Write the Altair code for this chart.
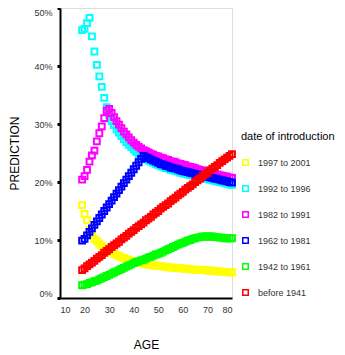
import altair as alt
import pandas as pd

ages = list(range(19, 81))
series_names = ["1997 to 2001", "1992 to 1996", "1982 to 1991",
                "1962 to 1981", "1942 to 1961", "before 1941"]
colors = ["#ffff00", "#00ffff", "#ff00ff", "#0000ff", "#00ff00", "#ff0000"]

yellow = [16.0, 14.5, 13.4, 11.7, 10.8, 10.2, 9.8, 9.4, 9.0, 8.7,
          8.4, 8.1, 7.9, 7.6, 7.4, 7.2, 7.0, 6.9, 6.7, 6.6,
          6.4, 6.3, 6.2, 6.1, 6.0, 5.9, 5.8, 5.7, 5.7, 5.6,
          5.6, 5.5, 5.5, 5.4, 5.4, 5.3, 5.3, 5.2, 5.2, 5.2,
          5.1, 5.1, 5.0, 5.0, 5.0, 4.9, 4.9, 4.9, 4.8, 4.8,
          4.8, 4.7, 4.7, 4.7, 4.6, 4.6, 4.6, 4.5, 4.5, 4.5,
          4.4, 4.4]
cyan = [46.2, 46.4, 47.4, 48.3, 45.1, 42.5, 40.2, 38.2, 36.4, 34.5,
        32.9, 31.5, 30.5, 29.8, 29.1, 28.5, 27.9, 27.4, 26.9, 26.4,
        26.0, 25.6, 25.2, 24.8, 24.5, 24.2, 23.9, 23.7, 23.5, 23.3,
        23.1, 22.9, 22.7, 22.6, 22.4, 22.3, 22.1, 22.0, 21.9, 21.8,
        21.6, 21.5, 21.4, 21.3, 21.2, 21.1, 21.0, 20.9, 20.8, 20.7,
        20.6, 20.5, 20.4, 20.3, 20.2, 20.1, 20.0, 19.9, 19.8, 19.7,
        19.6, 19.5]
magenta = [20.4, 21.0, 22.1, 23.5, 24.6, 25.4, 27.0, 28.4, 29.6, 31.0,
           32.3, 32.6, 31.9, 31.2, 30.5, 29.9, 29.3, 28.7, 28.2, 27.7,
           27.2, 26.8, 26.4, 26.1, 25.8, 25.5, 25.3, 25.1, 24.9, 24.7,
           24.5, 24.4, 24.2, 24.1, 23.9, 23.8, 23.6, 23.5, 23.4, 23.2,
           23.1, 23.0, 22.9, 22.7, 22.6, 22.5, 22.4, 22.2, 22.1, 22.0,
           21.9, 21.7, 21.6, 21.5, 21.4, 21.3, 21.2, 21.1, 21.0, 20.9,
           20.8, 20.7]
blue = [9.9, 10.2, 10.8, 11.4, 12.0, 12.6, 13.2, 13.8, 14.4, 15.0,
        15.6, 16.2, 16.8, 17.4, 18.0, 18.6, 19.2, 19.8, 20.4, 21.0,
        21.6, 22.2, 22.8, 23.4, 24.0, 24.5, 24.3, 24.1, 23.9, 23.7,
        23.5, 23.3, 23.1, 23.0, 22.8, 22.7, 22.5, 22.4, 22.3, 22.2,
        22.0, 21.9, 21.8, 21.7, 21.6, 21.5, 21.4, 21.3, 21.2, 21.1,
        21.0, 20.9, 20.8, 20.7, 20.6, 20.5, 20.4, 20.3, 20.2, 20.1,
        20.0, 19.9]
green = [2.2, 2.3, 2.4, 2.6, 2.7, 2.9, 3.0, 3.2, 3.4, 3.6,
         3.8, 4.0, 4.2, 4.4, 4.6, 4.8, 5.0, 5.2, 5.4, 5.6,
         5.8, 6.0, 6.2, 6.3, 6.5, 6.6, 6.8, 7.0, 7.1, 7.3,
         7.5, 7.6, 7.8, 8.0, 8.2, 8.4, 8.6, 8.8, 9.0, 9.2,
         9.4, 9.5, 9.7, 9.9, 10.0, 10.2, 10.3, 10.4, 10.5, 10.6,
         10.6, 10.6, 10.6, 10.6, 10.5, 10.5, 10.4, 10.4, 10.3, 10.3,
         10.3, 10.3]
red = [4.8, 5.1, 5.5, 5.8, 6.1, 6.4, 6.8, 7.1, 7.4, 7.8,
       8.1, 8.4, 8.8, 9.1, 9.4, 9.7, 10.1, 10.4, 10.7, 11.1,
       11.4, 11.7, 12.1, 12.4, 12.7, 13.0, 13.4, 13.7, 14.0, 14.4,
       14.7, 15.0, 15.4, 15.7, 16.0, 16.3, 16.7, 17.0, 17.3, 17.7,
       18.0, 18.3, 18.7, 19.0, 19.3, 19.6, 20.0, 20.3, 20.6, 21.0,
       21.3, 21.6, 22.0, 22.3, 22.6, 22.9, 23.3, 23.6, 23.9, 24.2,
       24.5, 24.8]

x_ticks = [10, 20, 30, 40, 50, 60, 70, 80]
y_ticks = [0, 0.1, 0.2, 0.3, 0.4, 0.5]

rows = []
for order, (name, vals) in enumerate(zip(series_names, [yellow, cyan, magenta, blue, green, red])):
    for a, v in zip(ages, vals):
        rows.append({"age": a, "pred": v / 100.0, "series": name, "ord": order})
df = pd.DataFrame(rows)

FONT = "Liberation Sans"

chart = alt.Chart(df).mark_point(
    shape="square", filled=False, size=34, strokeWidth=2, opacity=1
).encode(
    x=alt.X("age:Q", scale=alt.Scale(domain=[10, 80], nice=False, zero=False),
            axis=alt.Axis(title="AGE", values=x_ticks, ticks=False, grid=False,
                          labelFontSize=9, labelColor="#333333", labelPadding=7,
                          domainColor="black", domainWidth=2,
                          titleFontSize=12, titleFontWeight="normal", titleColor="black",
                          titleY=41, titleBaseline="top")),
    y=alt.Y("pred:Q", scale=alt.Scale(domain=[0, 0.5], nice=False),
            axis=alt.Axis(title="PREDICTION", values=y_ticks, format=".0%", grid=False,
                          tickSize=3, tickWidth=3, tickColor="black",
                          labelFontSize=9, labelColor="#333333", labelPadding=5,
                          labelFlush=True,
                          domainColor="black", domainWidth=2,
                          titleFontSize=12, titleFontWeight="normal", titleColor="black",
                          titleX=-46, titleBaseline="middle")),
    color=alt.Color("series:N", scale=alt.Scale(domain=series_names, range=colors),
                    legend=alt.Legend(title="date of introduction", orient="none",
                                      legendX=181, legendY=123,
                                      titleFontSize=11, titleFontWeight="normal",
                                      titleColor="black", titlePadding=16,
                                      labelFontSize=9, labelColor="#333333",
                                      symbolType="square", symbolSize=30,
                                      symbolStrokeWidth=1.5, rowPadding=13,
                                      labelOffset=8, titleLimit=400)),
    order=alt.Order("ord:Q"),
).properties(
    width=172, height=290,
    autosize=alt.AutoSizeParams(type="none"),
    padding={"left": 52, "top": 0, "right": 105, "bottom": 55},
).configure_view(
    stroke="black", strokeWidth=2
).configure(
    font=FONT
)

chart.save("out.html", embed_options={"renderer": "svg", "actions": False})
